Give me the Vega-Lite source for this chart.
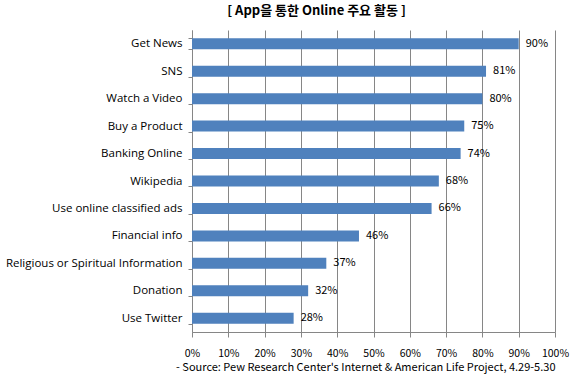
{
  "$schema": "https://vega.github.io/schema/vega-lite/v6.json",
  "autosize": {"type": "none"},
  "padding": {"left": 192, "top": 30, "right": 17, "bottom": 53},
  "width": 363,
  "height": 302,
  "background": "white",
  "title": {
    "text": "[ App을 통한 Online 주요 활동 ]",
    "font": "Noto Sans CJK KR",
    "fontSize": 13,
    "fontWeight": "bold",
    "color": "#000000",
    "anchor": "middle",
    "dx": -57,
    "offset": 6
  },
  "data": {
    "values": [
      {"activity": "Get News", "value": 0.90},
      {"activity": "SNS", "value": 0.81},
      {"activity": "Watch a Video", "value": 0.80},
      {"activity": "Buy a Product", "value": 0.75},
      {"activity": "Banking Online", "value": 0.74},
      {"activity": "Wikipedia", "value": 0.68},
      {"activity": "Use online classified ads", "value": 0.66},
      {"activity": "Financial info", "value": 0.46},
      {"activity": "Religious or Spiritual Information", "value": 0.37},
      {"activity": "Donation", "value": 0.32},
      {"activity": "Use Twitter", "value": 0.28}
    ]
  },
  "config": {
    "view": {"stroke": null},
    "axis": {
      "domainColor": "#868686",
      "tickColor": "#868686",
      "gridColor": "#868686",
      "labelColor": "#000000"
    }
  },
  "encoding": {
    "y": {
      "field": "activity",
      "type": "nominal",
      "sort": null,
      "scale": {"paddingInner": 0.6, "paddingOuter": 0.3},
      "axis": {
        "title": null,
        "tickBand": "extent",
        "tickExtra": true,
        "grid": false,
        "tickSize": 4,
        "labelFont": "Open Sans",
        "labelFontSize": 11.5,
        "labelPadding": 6,
        "labelLimit": 200
      }
    },
    "x": {
      "field": "value",
      "type": "quantitative",
      "scale": {"domain": [0, 1], "nice": false},
      "axis": {
        "values": [0, 0.1, 0.2, 0.3, 0.4, 0.5, 0.6, 0.7, 0.8, 0.9, 1.0],
        "format": ".0%",
        "grid": true,
        "tickSize": 5,
        "labelPadding": 11,
        "labelOverlap": false,
        "labelFlush": false,
        "labelFont": "Noto Sans CJK KR",
        "labelFontSize": 10.5,
        "title": "- Source: Pew Research  Center's Internet  & American Life Project, 4.29-5.30",
        "titleFont": "Noto Sans CJK KR",
        "titleFontSize": 11,
        "titleFontWeight": "normal",
        "titleColor": "#000000",
        "titleAnchor": "end",
        "titlePadding": 3
      }
    }
  },
  "layer": [
    {
      "mark": {"type": "bar", "color": "#4F81BD", "height": 11}
    },
    {
      "mark": {"type": "text", "align": "left", "dx": 7, "font": "Noto Sans CJK KR", "fontSize": 11, "color": "#000000"},
      "encoding": {
        "text": {"field": "value", "type": "quantitative", "format": ".0%"}
      }
    }
  ]
}
